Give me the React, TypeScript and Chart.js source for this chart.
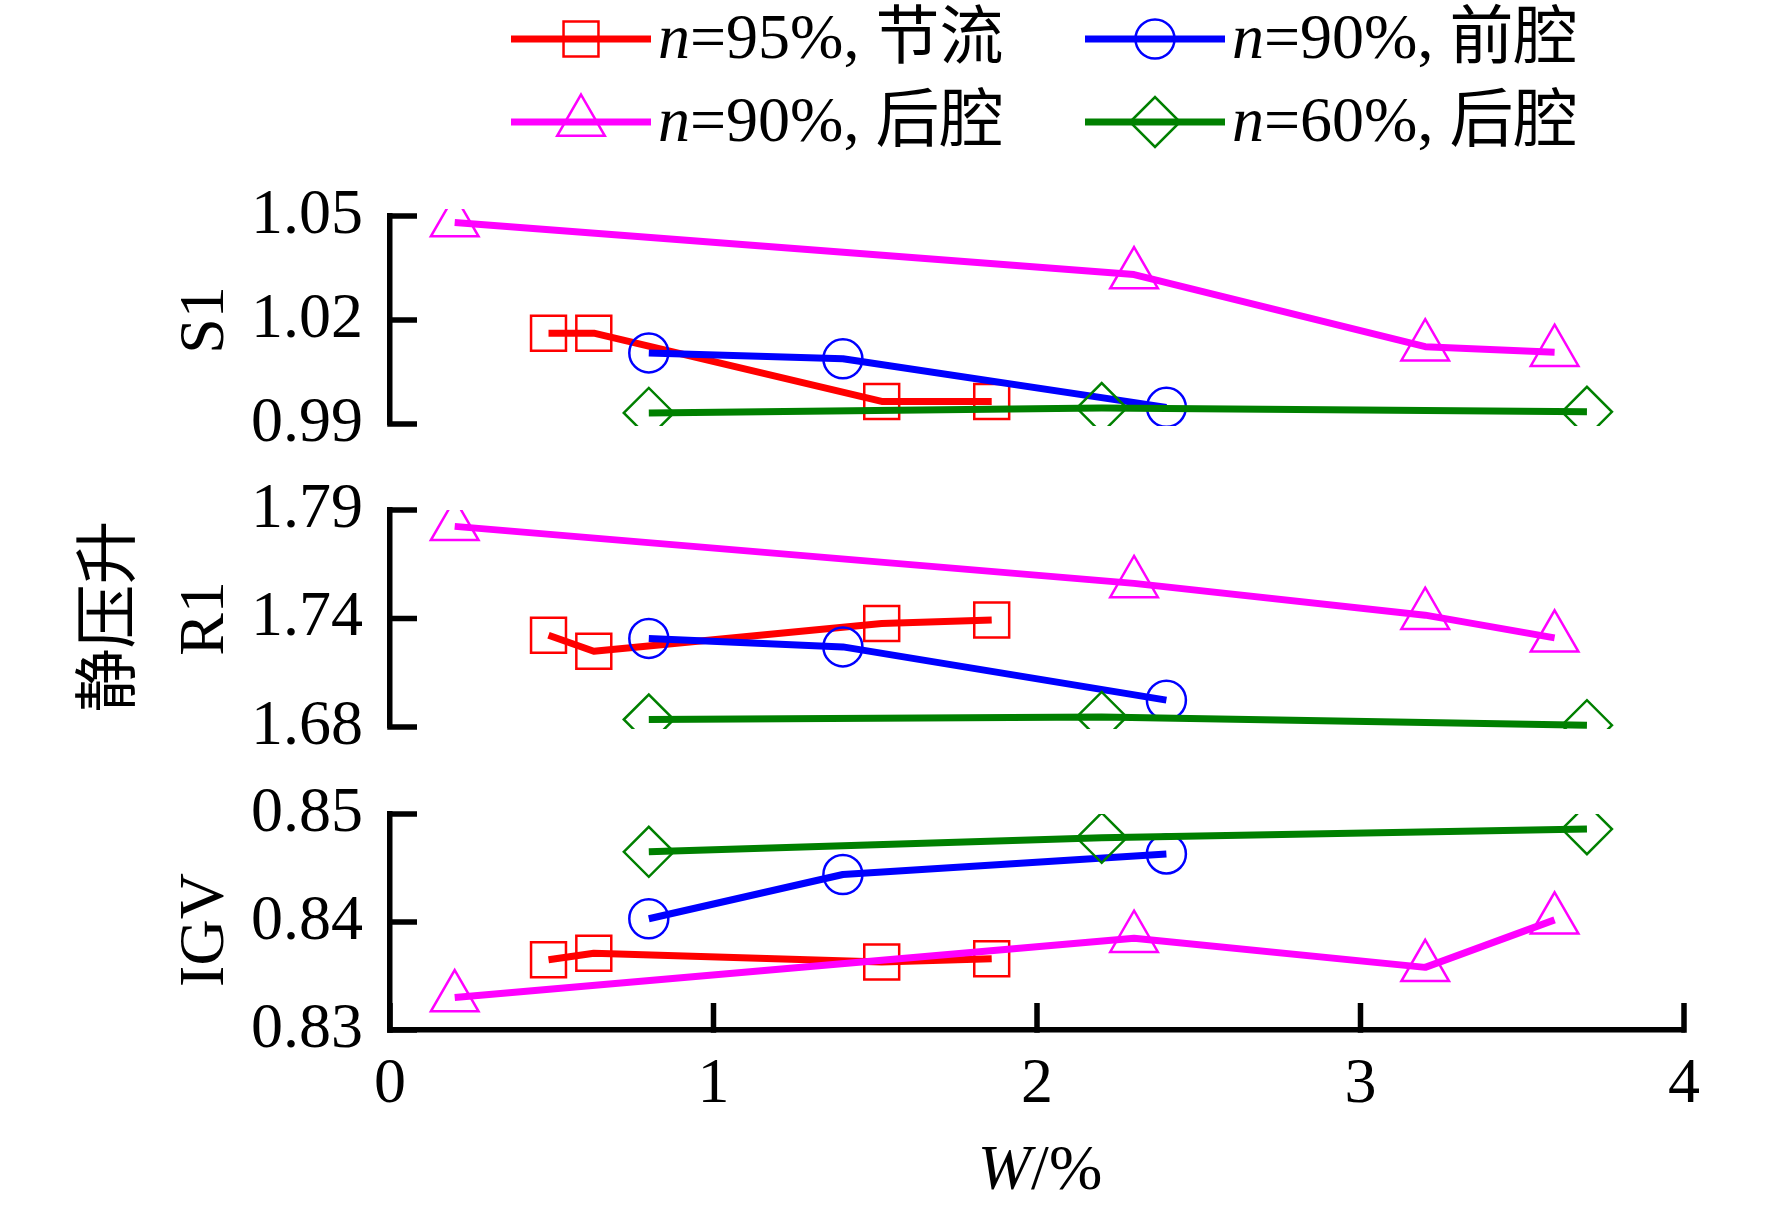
import React, { useEffect, useRef } from 'react';
import { Chart, registerables } from 'chart.js';

Chart.register(...registerables);

// W/% of every point, per run
const wRed = [0.49, 0.63, 1.52, 1.86];
const wBlue = [0.8, 1.4, 2.4];
const wMagenta = [0.2, 2.3, 3.2, 3.6];
const wGreen = [0.8, 2.2, 3.7];

// static pressure rise, S1 row
const s1Red = [1.0162, 1.0162, 0.9965, 0.9965];
const s1Blue = [1.0105, 1.0088, 0.9948];
const s1Magenta = [1.0481, 1.0331, 1.0123, 1.0107];
const s1Green = [0.9932, 0.9946, 0.9935];

// R1 row
const r1Red = [1.7265, 1.7184, 1.7325, 1.7342];
const r1Blue = [1.7249, 1.7206, 1.6936];
const r1Magenta = [1.7817, 1.7528, 1.7367, 1.7252];
const r1Green = [1.6838, 1.6851, 1.6809];

// IGV row
const igvRed = [0.8365, 0.8371, 0.8363, 0.8366];
const igvBlue = [0.8403, 0.8444, 0.8463];
const igvMagenta = [0.833, 0.8385, 0.8358, 0.8402];
const igvGreen = [0.8465, 0.8478, 0.8486];

// tick labels
const s1TickValues = [0.99, 1.02, 1.05];
const s1TickLabels = ['0.99', '1.02', '1.05'];
const r1TickValues = [1.68, 1.735, 1.79];
const r1TickLabels = ['1.68', '1.74', '1.79'];
const igvTickValues = [0.83, 0.84, 0.85];
const igvTickLabels = ['0.83', '0.84', '0.85'];
const xTickValues = [0, 1, 2, 3, 4];
const xTickLabels = ['0', '1', '2', '3', '4'];

// legend text (the leading italic "n" is drawn separately)
const legendRest = ['=95%, 节流', '=90%, 前腔', '=90%, 后腔', '=60%, 后腔'];
const sideTitleText = '静压升';

const seriesX = [wRed, wBlue, wMagenta, wGreen];
const seriesColors = ['#ff0000', '#0000ff', '#ff00ff', '#008000'];
const seriesMarkers = ['rect', 'circle', 'triangle', 'rectRot'];
const seriesMarkerRadius = [24.7, 19.5, 27.5, 25];

const WIDTH = 1772;
const HEIGHT = 1206;
const FS = 64;
const SERIF = '"Liberation Serif", "Times New Roman", serif';
const SERIF_CJK = '"Liberation Serif", "Noto Sans CJK SC", serif';
const CJK = '"Noto Sans CJK SC", sans-serif';
const AXIS_W = 5.5;
const TICK_LEN = 27;
const Y_AXIS_WIDTH = 390;
const PAD_RIGHT = 88;
const LINE_W = 7;

function drawMarker(ctx: CanvasRenderingContext2D, style: string, x: number, y: number, r: number) {
  ctx.beginPath();
  if (style === 'rect') {
    const s = r * Math.SQRT1_2;
    ctx.rect(x - s, y - s, 2 * s, 2 * s);
  } else if (style === 'circle') {
    ctx.arc(x, y, r, 0, Math.PI * 2);
  } else if (style === 'triangle') {
    for (let k = 0; k < 3; k++) {
      const a = (k * 2 * Math.PI) / 3;
      const px = x + Math.sin(a) * r;
      const py = y - Math.cos(a) * r;
      if (k === 0) ctx.moveTo(px, py);
      else ctx.lineTo(px, py);
    }
    ctx.closePath();
  } else {
    ctx.moveTo(x - r, y);
    ctx.lineTo(x, y - r);
    ctx.lineTo(x + r, y);
    ctx.lineTo(x, y + r);
    ctx.closePath();
  }
  ctx.stroke();
}

// tick marks point into the plot, so draw them by hand
const innerTicks = {
  id: 'innerTicks',
  afterDatasetsDraw(chart: any) {
    const { ctx, chartArea, scales } = chart;
    ctx.save();
    ctx.strokeStyle = '#000';
    ctx.lineWidth = AXIS_W;
    const y = scales.y;
    y.ticks.forEach((t: any) => {
      const py = y.getPixelForValue(t.value);
      ctx.beginPath();
      ctx.moveTo(chartArea.left - AXIS_W / 2, py);
      ctx.lineTo(chartArea.left + TICK_LEN, py);
      ctx.stroke();
    });
    const x = scales.x;
    if (x.options.display) {
      x.ticks.forEach((t: any) => {
        const px = x.getPixelForValue(t.value);
        ctx.beginPath();
        ctx.moveTo(px, chartArea.bottom + AXIS_W / 2);
        ctx.lineTo(px, chartArea.bottom - TICK_LEN);
        ctx.stroke();
      });
    }
    ctx.restore();
  },
};

const legendBlock = {
  id: 'legendBlock',
  afterDraw(chart: any) {
    const { ctx } = chart;
    const colX = [511, 1085];
    const rowY = [39, 122];
    ctx.save();
    legendRest.forEach((rest, i) => {
      const x0 = colX[i % 2];
      const y0 = rowY[Math.floor(i / 2)];
      ctx.strokeStyle = seriesColors[i];
      ctx.lineWidth = LINE_W;
      ctx.beginPath();
      ctx.moveTo(x0, y0);
      ctx.lineTo(x0 + 140, y0);
      ctx.stroke();
      ctx.lineWidth = 2.5;
      drawMarker(ctx, seriesMarkers[i], x0 + 70, y0, seriesMarkerRadius[i]);
      ctx.fillStyle = '#000';
      ctx.textAlign = 'left';
      ctx.textBaseline = 'alphabetic';
      const tx = x0 + 147;
      ctx.font = `italic ${FS}px ${SERIF}`;
      ctx.fillText('n', tx, y0 + 19);
      const nw = ctx.measureText('n').width;
      ctx.font = `${FS}px ${SERIF_CJK}`;
      ctx.fillText(rest, tx + nw, y0 + 19);
    });
    ctx.restore();
  },
};

const sideTitle = {
  id: 'sideTitle',
  afterDraw(chart: any) {
    const { ctx, chartArea } = chart;
    ctx.save();
    ctx.translate(105, (chartArea.top + chartArea.bottom) / 2 - 2);
    ctx.rotate(-Math.PI / 2);
    ctx.font = `${FS}px ${CJK}`;
    ctx.textAlign = 'center';
    ctx.textBaseline = 'middle';
    ctx.fillStyle = '#000';
    ctx.fillText(sideTitleText, 0, 0);
    ctx.restore();
  },
};

const xTitle = {
  id: 'xTitle',
  afterDraw(chart: any) {
    const { ctx, chartArea } = chart;
    const cx = (chartArea.left + chartArea.right) / 2 + 3;
    const cy = chart.height - 34;
    ctx.save();
    ctx.fillStyle = '#000';
    ctx.textBaseline = 'middle';
    ctx.textAlign = 'left';
    ctx.font = `italic ${FS}px ${SERIF}`;
    const ww = ctx.measureText('W').width;
    ctx.font = `${FS}px ${SERIF}`;
    const rw = ctx.measureText('/%').width;
    const x0 = cx - (ww + rw) / 2;
    ctx.font = `italic ${FS}px ${SERIF}`;
    ctx.fillText('W', x0, cy);
    ctx.font = `${FS}px ${SERIF}`;
    ctx.fillText('/%', x0 + ww, cy);
    ctx.restore();
  },
};

interface PanelSpec {
  key: string;
  title: string;
  values: number[][];
  tickValues: number[];
  tickLabels: string[];
  top: number;
  height: number;
  padTop: number;
  padBottom: number;
  clipTop: number;
  showX: boolean;
  extra: any[];
}

// canvases overlap a little so the tick labels have room; they are transparent
const panels: PanelSpec[] = [
  {
    key: 's1', title: 'S1', values: [s1Red, s1Blue, s1Magenta, s1Green],
    tickValues: s1TickValues, tickLabels: s1TickLabels,
    top: 0, height: 496, padTop: 216, padBottom: 72, clipTop: 7, showX: false, extra: [legendBlock],
  },
  {
    key: 'r1', title: 'R1', values: [r1Red, r1Blue, r1Magenta, r1Green],
    tickValues: r1TickValues, tickLabels: r1TickLabels,
    top: 438, height: 361, padTop: 72, padBottom: 72, clipTop: 0, showX: false, extra: [sideTitle],
  },
  {
    key: 'igv', title: 'IGV ', values: [igvRed, igvBlue, igvMagenta, igvGreen],
    tickValues: igvTickValues, tickLabels: igvTickLabels,
    top: 742, height: 464, padTop: 72, padBottom: 0, clipTop: 0, showX: true, extra: [xTitle],
  },
];

function buildConfig(p: PanelSpec) {
  const font = { family: SERIF, size: FS, weight: 'normal' as const };
  const datasets = p.values.map((ys, i) => ({
    label: legendRest[i],
    data: ys.map((y, j) => ({ x: seriesX[i][j], y })),
    borderColor: seriesColors[i],
    borderWidth: LINE_W,
    borderJoinStyle: 'round',
    tension: 0,
    pointStyle: seriesMarkers[i],
    pointRadius: seriesMarkerRadius[i],
    pointBorderWidth: 2.5,
    pointBorderColor: seriesColors[i],
    pointBackgroundColor: 'rgba(0,0,0,0)',
    order: 4 - i,
    clip: { left: false, right: false, top: p.clipTop, bottom: 2 },
  }));

  const xScale = p.showX
    ? {
        type: 'linear',
        position: 'bottom',
        min: 0,
        max: 4,
        afterBuildTicks: (s: any) => { s.ticks = xTickValues.map((v) => ({ value: v })); },
        afterFit: (s: any) => { s.height = HEIGHT - 1030; },
        ticks: {
          callback: (_v: any, i: number) => xTickLabels[i],
          font, color: '#000', padding: 17, maxRotation: 0, autoSkip: false,
        },
        grid: { display: false, drawTicks: false },
        border: { display: true, color: '#000', width: AXIS_W },
      }
    : { type: 'linear', min: 0, max: 4, display: false };

  return {
    type: 'line',
    data: { datasets },
    options: {
      responsive: false,
      animation: false,
      events: [],
      layout: { padding: { left: 0, right: PAD_RIGHT, top: p.padTop, bottom: p.padBottom } },
      plugins: { legend: { display: false }, tooltip: { enabled: false } },
      scales: {
        x: xScale,
        y: {
          type: 'linear',
          min: p.tickValues[0],
          max: p.tickValues[p.tickValues.length - 1],
          afterBuildTicks: (s: any) => { s.ticks = p.tickValues.map((v) => ({ value: v })); },
          afterFit: (s: any) => { s.width = Y_AXIS_WIDTH; },
          ticks: {
            callback: (_v: any, i: number) => p.tickLabels[i],
            font, color: '#000', padding: 27, autoSkip: false,
          },
          grid: { display: false, drawTicks: false },
          border: { display: true, color: '#000', width: AXIS_W },
          title: {
            display: true, text: p.title, font, color: '#000',
            padding: { top: 168, bottom: 0 },
          },
        },
      },
    },
    plugins: [innerTicks, ...p.extra],
  };
}

const ChartCanvas: React.FC<{ spec: PanelSpec }> = ({ spec }) => {
  const canvasRef = useRef<HTMLCanvasElement>(null);

  useEffect(() => {
    if (!canvasRef.current) return;
    const chart = new Chart(canvasRef.current, buildConfig(spec) as any);
    return () => {
      chart.destroy();
    };
  }, [spec]);

  return (
    <canvas
      ref={canvasRef}
      width={WIDTH}
      height={spec.height}
      style={{ position: 'absolute', left: 0, top: spec.top, width: WIDTH, height: spec.height }}
    />
  );
};

const App: React.FC = () => (
  <div
    style={{
      position: 'absolute', left: 0, top: 0, width: WIDTH, height: HEIGHT,
      background: '#fff', overflow: 'hidden',
    }}
  >
    {panels.map((p) => (
      <ChartCanvas key={p.key} spec={p} />
    ))}
  </div>
);

export default App;
